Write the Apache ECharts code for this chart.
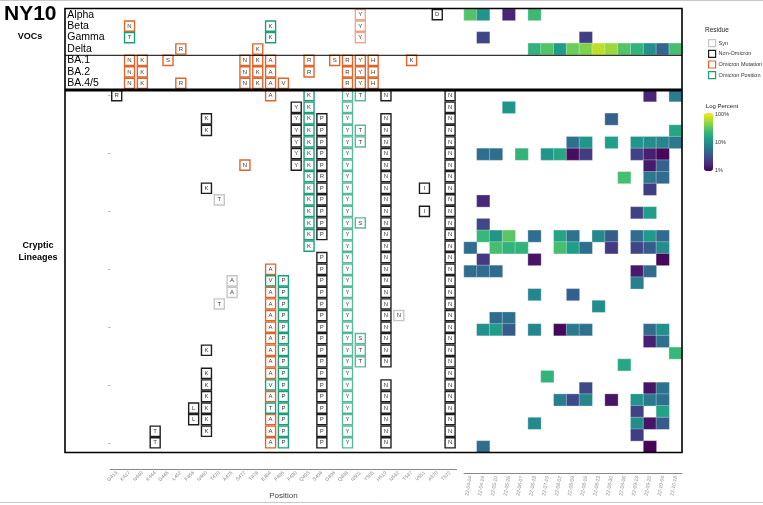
<!DOCTYPE html>
<html><head><meta charset="utf-8">
<script src="https://cdn.jsdelivr.net/npm/echarts@6/dist/echarts.min.js"></script>
<style>html,body{margin:0;padding:0;background:#fff}#c{width:763px;height:505px}</style>
</head><body><div id="c"></div>
<script>
// ---------- DATA ----------
const positions = ['G413','K417','N440','K444','G446','L452','F456','N460','T470','A475','S477','T478','E484','F486','F490','Q493','S494','G496','Q498','N501','Y505','H519','N542','T547','V551','A570','T572'];
const dates = ['22-04-04','22-04-19','22-05-10','22-05-26','22-06-07','22-06-28','22-07-19','22-08-02','22-08-09','22-08-16','22-08-23','22-08-30','22-09-06','22-09-13','22-09-20','22-10-04','22-10-18'];
const vocNames = ['Alpha','Beta','Gamma','Delta','BA.1','BA.2','BA.4/5'];
const crypticRows = ['c01','c02','c03','c04','c05','c06','c07','c08','c09','c10','c11','c12','c13','c14','c15','c16','c17','c18','c19','c20','c21','c22','c23','c24','c25','c26','c27','c28','c29','c30','c31'];
// residue code: mutation + ':' + class (S syn, N non-Omicron, M/m Omicron mutation, P/p Omicron position; lowercase = faded)
const vocResidues = [
 'N501Y:m A570D:N',
 'K417N:M E484K:P N501Y:m',
 'K417T:P E484K:P N501Y:m',
 'L452R:M T478K:M',
 'K417N:M N440K:M G446S:M S477N:M T478K:M E484A:M Q493R:M G496S:M Q498R:M N501Y:M Y505H:M T547K:M',
 'K417N:M N440K:M S477N:M T478K:M E484A:M Q493R:M Q498R:M N501Y:M Y505H:M',
 'K417N:M N440K:M L452R:M S477N:M T478K:M E484A:M F486V:M Q498R:M N501Y:M Y505H:M'
];
const crypticResidues = [
 'G413R:N E484A:M Q493K:P Q498Y:p N501T:p H519N:N T572N:N',
 'F490Y:N Q493K:P Q498Y:p T572N:N',
 'N460K:N F490Y:N Q493K:P S494P:N Q498Y:p H519N:N T572N:N',
 'N460K:N F490Y:N Q493K:P S494P:N Q498Y:p N501T:p H519N:N T572N:N',
 'F490Y:N Q493K:P S494P:N Q498Y:p N501T:p H519N:N T572N:N',
 'F490Y:N Q493K:P S494P:N Q498Y:p H519N:N T572N:N',
 'S477N:M F490Y:N Q493K:P S494P:N Q498Y:p H519N:N T572N:N',
 'Q493K:P S494R:N Q498Y:p H519N:N T572N:N',
 'N460K:N Q493K:P S494P:N Q498Y:p H519N:N V551I:N T572N:N',
 'T470T:S Q493K:P S494P:N Q498Y:p H519N:N T572N:N',
 'Q493K:P S494P:N Q498Y:p H519N:N V551I:N T572N:N',
 'Q493K:P S494P:N Q498Y:p N501S:p H519N:N T572N:N',
 'Q493K:P S494P:N Q498Y:p H519N:N T572N:N',
 'Q493K:P Q498Y:p H519N:N T572N:N',
 'S494P:N Q498Y:p H519N:N T572N:N',
 'E484A:M S494P:N Q498Y:p H519N:N T572N:N',
 'A475A:S E484V:P F486P:P S494P:N Q498Y:p H519N:N T572N:N',
 'A475A:S E484A:M F486P:P S494P:N Q498Y:p H519N:N T572N:N',
 'T470T:S E484A:M F486P:P S494P:N Q498Y:p H519N:N T572N:N',
 'E484A:M F486P:P S494P:N Q498Y:p H519N:N N542N:S T572N:N',
 'E484A:M F486P:P S494P:N Q498Y:p H519N:N T572N:N',
 'E484A:M F486P:P S494P:N Q498Y:p N501S:p H519N:N T572N:N',
 'N460K:N E484A:M F486P:P S494P:N Q498Y:p N501T:p H519N:N T572N:N',
 'E484A:M F486P:P S494P:N Q498Y:p N501T:p H519N:N T572N:N',
 'N460K:N E484A:M F486P:P S494P:N Q498Y:p T572N:N',
 'N460K:N E484V:P F486P:P S494P:N Q498Y:p H519N:N T572N:N',
 'N460K:N E484A:M F486P:P S494P:N Q498Y:p H519N:N T572N:N',
 'F456L:N N460K:N E484T:P F486P:P S494P:N Q498Y:p H519N:N T572N:N',
 'F456L:N N460K:N E484A:M F486P:P S494P:N Q498Y:p H519N:N T572N:N',
 'K444T:N N460K:N E484A:M F486P:P S494P:N Q498Y:p H519N:N T572N:N',
 'K444T:N E484A:M F486P:P S494P:N Q498Y:p H519N:N T572N:N'
];
// heat: [dateIndex, percent]
const vocHeat = [
 [[0,28],[1,11],[3,1.6],[5,23]],
 [],
 [[1,2.6],[9,2.4]],
 [[5,20],[6,28],[7,12.6],[8,35],[9,40],[10,63],[11,50],[12,28],[13,20],[14,10],[15,4.5],[16,25]],
 [],[],[]
];
const crypticHeat = [
 [[14,1.6],[16,7]],
 [[3,11]],
 [[11,4.2]],
 [[16,15]],
 [[8,5.5],[9,11],[11,13],[13,11],[14,9.5],[15,8.5],[16,6.5]],
 [[1,5.2],[2,5.2],[4,20],[6,11],[7,15],[8,1.2],[9,2.3],[13,2.5],[14,1.5],[15,1.1]],
 [[14,1.4],[15,4.2]],
 [[12,25],[14,6.5],[15,5]],
 [[14,2.3]],
 [[1,1.7]],
 [[13,2.5],[14,13]],
 [[1,2.7]],
 [[1,22],[2,11],[3,30],[5,5.2],[7,15],[8,5.6],[10,9],[11,3.8],[13,5],[14,12],[15,5]],
 [[0,5.2],[2,25],[3,20],[4,20],[7,25],[8,13],[9,5.2],[11,2.2],[13,2.6],[14,3.8],[15,9.5]],
 [[1,2.2],[5,1.3],[15,1.1]],
 [[0,5.2],[1,5],[2,5],[13,1.4],[14,4.8]],
 [[13,7.5]],
 [[5,8.5],[8,4]],
 [[10,9.5]],
 [[2,5],[3,5.5]],
 [[1,10],[2,12.6],[3,3.8],[5,8.5],[7,1.1],[8,6.5],[9,5.5],[14,5],[15,10]],
 [[14,1.5],[15,5.5]],
 [[16,22]],
 [[12,16]],
 [[6,20]],
 [[9,2.8],[14,1.3],[15,5.5]],
 [[7,7.2],[8,2.8],[9,8.3],[11,1.3],[13,11],[14,6.5],[15,5.5]],
 [[13,2.5],[15,14]],
 [[5,9],[13,9.5],[14,1.3],[15,3.8]],
 [[13,2.3]],
 [[1,5],[14,1.05]]
];
const legendNames = ['Syn','Non-Omicron','Omicron Mutation','Omicron Position'];
const viridis = ['#440154','#482878','#3e4989','#31688e','#26828e','#1f9e89','#35b779','#6ece58','#b5de2b','#fde725'];

// ---------- STYLE ----------
const FONT = 'Liberation Sans, Arial, sans-serif';
const cls = {
  S:{g:0, c:'#c6c6c6'}, N:{g:1, c:'#1e1e1e'},
  M:{g:2, c:'#e0652b'}, m:{g:2, c:'rgba(224,101,43,0.55)'},
  P:{g:3, c:'#1b9e77'}, p:{g:3, c:'rgba(27,158,119,0.72)'}
};
const groupColor = ['#c6c6c6','#1e1e1e','#e0652b','#1b9e77'];

function parseRows(list, rowNames){
  const groups = [[],[],[],[]];
  list.forEach((s, ri) => {
    s.split(' ').filter(Boolean).forEach(tok => {
      const [mut, c] = tok.split(':');
      const pos = mut.slice(0, -1), letter = mut.slice(-1);
      const st = cls[c];
      groups[st.g].push({value:[pos, rowNames[ri], letter], itemStyle:{borderColor:st.c}});
    });
  });
  return groups;
}
function heatData(list){
  const out = [];
  list.forEach((row, ri) => row.forEach(([di, pct]) => out.push([di, ri, Math.log10(pct)])));
  return out;
}

const L_LEFT = 110.3, L_W = 346.2, H_LEFT = 464, H_W = 218;
const T_TOP = 9, T_H = 80, C_TOP = 89.9, C_H = 362.7;
const grids = [
  {left:L_LEFT, top:T_TOP, width:L_W, height:T_H},
  {left:L_LEFT, top:C_TOP, width:L_W, height:C_H},
  {left:H_LEFT, top:T_TOP, width:H_W, height:T_H},
  {left:H_LEFT, top:C_TOP, width:H_W, height:C_H}
];
const hid = {show:false};
const xAxis = [
  {type:'category', gridIndex:0, data:positions, show:false},
  {type:'category', gridIndex:1, data:positions, position:'bottom', offset:20.4,
   axisLine:{lineStyle:{color:'#888', width:1}}, axisTick:{alignWithLabel:true, length:2.5, lineStyle:{color:'#888'}},
   axisLabel:{rotate:45, fontSize:5, color:'#8a8a8a', margin:3, fontFamily:FONT, interval:0},
   name:'Position', nameLocation:'middle', nameGap:23, nameTextStyle:{fontSize:8, color:'#444', fontFamily:FONT}},
  {type:'category', gridIndex:2, data:dates, show:false},
  {type:'category', gridIndex:3, data:dates, position:'bottom', offset:20.4,
   axisLine:{lineStyle:{color:'#888', width:1}}, axisTick:{alignWithLabel:true, length:2.5, lineStyle:{color:'#888'}},
   axisLabel:{rotate:80, fontSize:5, color:'#8a8a8a', margin:3, fontFamily:FONT, interval:0}}
];
const yAxis = [
  {type:'category', gridIndex:0, data:vocNames, inverse:true, axisLine:hid, axisTick:hid, splitLine:hid,
   axisLabel:{interval:0, align:'left', margin:43, fontSize:10.5, color:'#000', fontFamily:FONT}},
  {type:'category', gridIndex:1, data:crypticRows, inverse:true, axisLine:hid, splitLine:hid,
   axisTick:{show:true, alignWithLabel:true, length:2, interval:(i)=>i%5===0, lineStyle:{color:'#aaa'}},
   axisLabel:{show:false}},
  {type:'category', gridIndex:2, data:vocNames, inverse:true, show:false},
  {type:'category', gridIndex:3, data:crypticRows, inverse:true, show:false}
];

const series = [];
const topG = parseRows(vocResidues, vocNames);
const cryG = parseRows(crypticResidues, crypticRows);
[[topG,0],[cryG,1]].forEach(([groups, gi]) => {
  groups.forEach((data, k) => {
    series.push({
      type:'scatter', name:legendNames[k], xAxisIndex:gi, yAxisIndex:gi, silent:true,
      symbol:'rect', symbolSize:[10, 10.2], z:3+k,
      itemStyle:{color:'#fff', borderColor:groupColor[k], borderWidth:1.4, opacity:1},
      label:{show:true, position:'inside', formatter:(p)=>p.value[2], fontSize:6, color:'#3a3a3a', fontFamily:FONT},
      data
    });
  });
});
const heatStart = series.length;
series.push({type:'heatmap', xAxisIndex:2, yAxisIndex:2, data:heatData(vocHeat), silent:true,
  itemStyle:{borderColor:'rgba(255,255,255,0.5)', borderWidth:0.6}});
series.push({type:'heatmap', xAxisIndex:3, yAxisIndex:3, data:heatData(crypticHeat), silent:true,
  itemStyle:{borderColor:'rgba(255,255,255,0.5)', borderWidth:0.6}});

const txt = (x, y, text, o) => ({type:'text', x, y, style:Object.assign({text, fill:'#000', font:'9px '+FONT, textAlign:'left', textVerticalAlign:'middle'}, o||{})});
const ln = (x1,y1,x2,y2,w,c) => ({type:'line', shape:{x1,y1,x2,y2}, style:{stroke:c||'#000', lineWidth:w}, z:10});

const option = {
  animation:false,
  backgroundColor:'#fff',
  grid:grids, xAxis, yAxis, series,
  visualMap:{type:'continuous', min:0, max:2, seriesIndex:[heatStart, heatStart+1], inRange:{color:viridis},
    left:704, top:113, itemWidth:9, itemHeight:58, padding:0, calculable:false, hoverLink:false, text:null, showLabel:false},
  legend:{orient:'vertical', left:703, top:34, itemWidth:7, itemHeight:7, itemGap:2.5, selectedMode:false,
    textStyle:{fontSize:5.5, color:'#333', fontFamily:FONT, padding:[0,0,0,-2]},
    data:legendNames.map((n,k)=>({name:n, icon:'rect', itemStyle:{color:'#fff', borderColor:groupColor[k], borderWidth:1.2}}))},
  graphic:[
    ln(0,0.5,763,0.5,1,'#c8c8c8'), ln(0,502.5,763,502.5,1,'#c8c8c8'),
    {type:'rect', shape:{x:65, y:8.5, width:617, height:444}, style:{fill:null, stroke:'#000', lineWidth:1.6}, z:10},
    ln(65,55.3,682,55.3,1),
    ln(65,90,682,90,3),
    txt(4,14,'NY10',{font:'bold 21px '+FONT}),
    txt(30,37,'VOCs',{font:'bold 9px '+FONT, textAlign:'center'}),
    txt(38,246,'Cryptic',{font:'bold 9px '+FONT, textAlign:'center'}),
    txt(38,258,'Lineages',{font:'bold 9px '+FONT, textAlign:'center'}),
    txt(705,30,'Residue',{font:'6.5px '+FONT, fill:'#222'}),
    txt(722,106,'Log Percent',{font:'6px '+FONT, fill:'#222', textAlign:'center'}),
    txt(715,114,'100%',{font:'5.5px '+FONT, fill:'#333'}),
    txt(715,142.5,'10%',{font:'5.5px '+FONT, fill:'#333'}),
    txt(715,170,'1%',{font:'5.5px '+FONT, fill:'#333'})
  ]
};
const chart = echarts.init(document.getElementById('c'), null, {renderer:'canvas'});
chart.setOption(option);
</script></body></html>
